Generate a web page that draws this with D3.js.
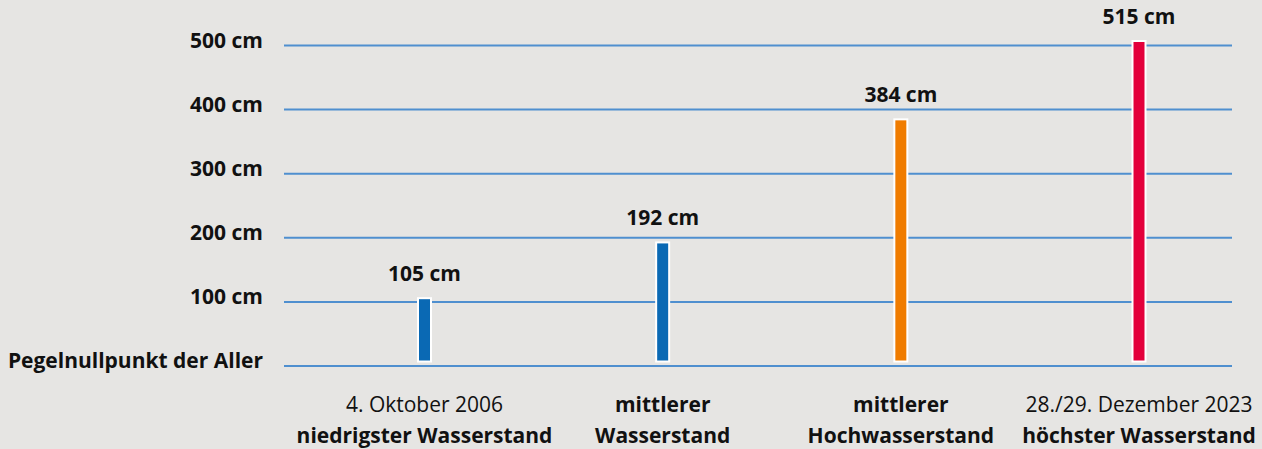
<!DOCTYPE html>
<html>
<head>
<meta charset="utf-8">
<script src="https://cdn.jsdelivr.net/npm/d3@7"></script>
<style>
  html, body { margin: 0; padding: 0; background: #e6e5e3; }
  svg { display: block; }
  text { font-family: "Open Sans", sans-serif; fill: #111; }
</style>
</head>
<body>
<svg id="chart" width="1262" height="449"></svg>
<script>
// ---- data ----
const categories = ["niedrigster Wasserstand", "mittlerer Wasserstand", "mittlerer Hochwasserstand", "höchster Wasserstand"];
const labelLine1 = ["4. Oktober 2006", "mittlerer", "mittlerer", "28./29. Dezember 2023"];
const labelLine2 = ["niedrigster Wasserstand", "Wasserstand", "Hochwasserstand", "höchster Wasserstand"];
const line1Bold = [false, true, true, false];
const values = [105, 192, 384, 515];
const barColors = ["#0a69b4", "#0a69b4", "#f07c00", "#e3003b"];
const tickValues = [0, 100, 200, 300, 400, 500];
const tickLabels = ["Pegelnullpunkt der Aller", "100 cm", "200 cm", "300 cm", "400 cm", "500 cm"];

// ---- layout ----
const W = 1262, H = 449;
const plotLeft = 284, plotRight = 1232;
const FS = 21;
const svg = d3.select("#chart");
svg.append("rect").attr("width", W).attr("height", H).attr("fill", "#e6e5e3");

const y = d3.scaleLinear().domain([0, 500]).range([365.5, 45]);
const x = d3.scalePoint().domain(categories).range([424.5, 1139]);

svg.append("defs").append("clipPath").attr("id", "plotclip")
  .append("rect").attr("x", 0).attr("y", 40).attr("width", W).attr("height", H);

// grid lines
const yAxis = d3.axisLeft(y).tickValues(tickValues)
  .tickSize(-(plotRight - plotLeft))
  .tickFormat((d, i) => tickLabels[i]);
const gy = svg.append("g").attr("transform", `translate(${plotLeft},0)`).call(yAxis);
gy.select(".domain").remove();
gy.selectAll(".tick line").attr("stroke", "#4f8fcf").attr("stroke-width", 2);
gy.selectAll(".tick text")
  .attr("x", -21).attr("y", 2.3).attr("dy", "0")
  .attr("font-size", FS).attr("font-weight", 700)
  .attr("fill", "#111")
  .style("font-family", "'Open Sans', sans-serif");

// bars
const barW = 13;
const gBars = svg.append("g").attr("clip-path", "url(#plotclip)");
gBars.selectAll("rect").data(values).join("rect")
  .attr("x", (d, i) => x(categories[i]) - barW / 2)
  .attr("y", d => Math.max(y(d), 41))
  .attr("width", barW)
  .attr("height", d => (y(0) - 4) - Math.max(y(d), 41))
  .attr("fill", (d, i) => barColors[i])
  .attr("stroke", "#fff").attr("stroke-width", 2);

// value labels
svg.append("g").selectAll("text").data(values).join("text")
  .attr("x", (d, i) => x(categories[i]))
  .attr("y", d => Math.max(y(d), 41) - 17)
  .attr("text-anchor", "middle")
  .attr("font-size", FS).attr("font-weight", 700)
  .text(d => `${d} cm`);

// category labels
const gCat = svg.append("g");
categories.forEach((c, i) => {
  gCat.append("text")
    .attr("x", x(c)).attr("y", 411.5)
    .attr("text-anchor", "middle")
    .attr("font-size", FS).attr("font-weight", line1Bold[i] ? 700 : 400)
    .text(labelLine1[i]);
  gCat.append("text")
    .attr("x", x(c)).attr("y", 443)
    .attr("text-anchor", "middle")
    .attr("font-size", FS).attr("font-weight", 700)
    .text(labelLine2[i]);
});
</script>
</body>
</html>
